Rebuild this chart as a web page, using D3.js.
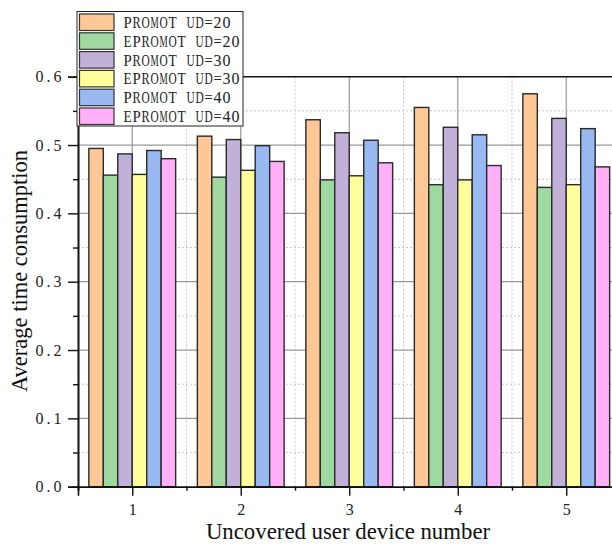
<!DOCTYPE html>
<html><head><meta charset="utf-8">
<script src="https://cdn.jsdelivr.net/npm/d3@7"></script>
<style>body{margin:0;background:#fff}</style>
</head><body>
<svg id="c" width="612" height="545"></svg>
<script>
const categories = [1, 2, 3, 4, 5];
const seriesNames = ["PROMOT UD=20","EPROMOT UD=20","PROMOT UD=30","EPROMOT UD=30","PROMOT UD=40","EPROMOT UD=40"];
const promot20  = [0.495, 0.513, 0.537, 0.555, 0.575];
const epromot20 = [0.456, 0.453, 0.449, 0.442, 0.438];
const promot30  = [0.487, 0.508, 0.518, 0.526, 0.539];
const epromot30 = [0.457, 0.463, 0.455, 0.449, 0.442];
const promot40  = [0.492, 0.499, 0.507, 0.515, 0.524];
const epromot40 = [0.480, 0.476, 0.474, 0.470, 0.468];
const colors = ["#fdc896","#9fd99f","#c1b1d8","#ffff9c","#98b9f1","#ffb0f6"];
const yTicks = [0, 0.1, 0.2, 0.3, 0.4, 0.5, 0.6];
const yTickLabels = ["0.0","0.1","0.2","0.3","0.4","0.5","0.6"];

const seriesVals = [promot20, epromot20, promot30, epromot30, promot40, epromot40];

const svg = d3.select("#c");
const L = 78, R = 620.5, T = 76.7, B = 486.7;
const x = d3.scaleLinear().domain([0.5, 5.5]).range([L, R]);
const y = d3.scaleLinear().domain([0, 0.6]).range([B, T]);
const gw = (x(2) - x(1)) * 0.8;
const xb = d3.scaleBand().domain(seriesNames).range([-gw/2, gw/2]).padding(0);

const fontTick = "'Liberation Serif', serif";
const charW = 9;
// monospace-like text: each character centred in its own 9px cell, wide glyphs narrowed to fit
function monoText(sel, str, xStart) {
  sel.text(null).attr("text-anchor", "middle");
  [...str].forEach((ch, i) => {
    const ts = sel.append("tspan").attr("x", xStart + i * charW + charW / 2).text(ch);
    const w = ts.node().getComputedTextLength();
    if (w > charW - 0.8) ts.attr("textLength", charW - 0.8).attr("lengthAdjust", "spacingAndGlyphs");
  });
}

// gridlines
const g = svg.append("g");
g.selectAll(".hmin").data(d3.range(0.05, 0.6, 0.1)).join("line")
  .attr("x1", L).attr("x2", R).attr("y1", d => y(d)).attr("y2", d => y(d))
  .attr("stroke", "#c8c8c8").attr("stroke-dasharray", "2,2");
g.selectAll(".vmin").data([1.5, 2.5, 3.5, 4.5]).join("line")
  .attr("x1", d => x(d)).attr("x2", d => x(d)).attr("y1", T).attr("y2", B)
  .attr("stroke", "#c8c8c8").attr("stroke-dasharray", "2,2");
g.selectAll(".hmaj").data(yTicks.slice(1, 6)).join("line")
  .attr("x1", L).attr("x2", R).attr("y1", d => y(d)).attr("y2", d => y(d))
  .attr("stroke", "#999").attr("stroke-width", 1.2);
g.selectAll(".vmaj").data(categories).join("line")
  .attr("x1", d => x(d)).attr("x2", d => x(d)).attr("y1", T).attr("y2", B)
  .attr("stroke", "#999").attr("stroke-width", 1.2);

// bars
seriesNames.forEach((s, i) => {
  svg.append("g").selectAll("rect").data(categories).join("rect")
    .attr("x", (d) => x(d) + xb(s))
    .attr("width", xb.bandwidth())
    .attr("y", (d, j) => y(seriesVals[i][j]))
    .attr("height", (d, j) => B - y(seriesVals[i][j]))
    .attr("fill", colors[i]).attr("stroke", "#2a2a2a").attr("stroke-width", 1.4);
});

// axes
const yAx = svg.append("g").attr("transform", `translate(${L},0)`)
  .call(d3.axisLeft(y).tickValues(yTicks).tickFormat((d, i) => yTickLabels[i]).tickSize(10).tickPadding(6));
svg.append("g").attr("transform", `translate(${L},0)`)
  .call(d3.axisLeft(y).tickValues(d3.range(0.05, 0.6, 0.1)).tickFormat("").tickSize(5));
svg.append("g").attr("transform", `translate(0,${B})`)
  .call(d3.axisBottom(x).tickValues(categories).tickFormat(d3.format("d")).tickSize(9).tickPadding(8));
svg.append("g").attr("transform", `translate(0,${B})`)
  .call(d3.axisBottom(x).tickValues([0.5, 1.5, 2.5, 3.5, 4.5]).tickFormat("").tickSize(4));
svg.selectAll(".domain").attr("stroke", "#111").attr("stroke-width", 1.6);
svg.selectAll(".tick line").attr("stroke", "#111").attr("stroke-width", 1.4);
svg.selectAll(".tick text").attr("font-family", fontTick).attr("font-size", 16).attr("fill", "#222");
yAx.selectAll(".tick text").each(function() {
  const t = d3.select(this).text();
  monoText(d3.select(this), t, -16 - t.length * charW);
});
// top frame
svg.append("line").attr("x1", L).attr("x2", R).attr("y1", T).attr("y2", T)
  .attr("stroke", "#111").attr("stroke-width", 1.6);

// axis titles
svg.append("text").attr("x", 348).attr("y", 539).attr("text-anchor", "middle")
  .attr("font-family", "'Liberation Serif', serif").attr("font-size", 22.8).attr("fill", "#111")
  .text("Uncovered user device number");
svg.append("text").attr("transform", `translate(27,${271}) rotate(-90)`).attr("text-anchor", "middle")
  .attr("font-family", "'Liberation Serif', serif").attr("font-size", 22.5).attr("fill", "#111")
  .text("Average time consumption");

// legend
const lg = svg.append("g");
lg.append("rect").attr("x", 77).attr("y", 11.5).attr("width", 166).attr("height", 114.5)
  .attr("fill", "#fff").attr("stroke", "#222").attr("stroke-width", 1);
const rowY = d3.scaleLinear().domain([0, 6]).range([14, 14 + 6 * 18.8]);
seriesNames.forEach((s, i) => {
  lg.append("rect").attr("x", 79.5).attr("y", rowY(i)).attr("width", 34.5).attr("height", 16.5)
    .attr("fill", colors[i]).attr("stroke", "#333").attr("stroke-width", 1.2);
  const t = lg.append("text").attr("y", rowY(i) + 14)
    .attr("font-family", fontTick).attr("font-size", 16).attr("fill", "#222");
  monoText(t, s, 123);
});
</script>
</body></html>
